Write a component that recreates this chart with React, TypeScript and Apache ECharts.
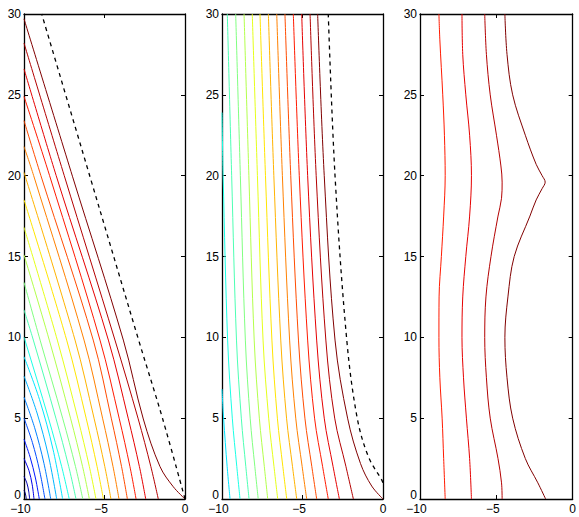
import React, { useEffect, useRef } from "react";
import * as echarts from "echarts";

type Pt = [number, number];

const xTickValues = [-10, -5, 0];
const yTickValues = [0, 5, 10, 15, 20, 25, 30];

// Panel 1: contour lines, from the lower-left corner outwards
const panel1Lines: Pt[][] = [
  [[-9.86, 0], [-9.885, 0.19], [-9.93, 0.385], [-10, 0.55]],
  [[-9.65, 0], [-9.71, 0.49], [-9.82, 0.98], [-10, 1.4]],
  [[-9.38, 0], [-9.49, 0.88], [-9.69, 1.75], [-10, 2.5]],
  [[-9.05, 0], [-9.29, 1.3], [-9.62, 2.59], [-10, 3.7]],
  [[-8.7, 0], [-9.03, 1.75], [-9.48, 3.5], [-10, 5.0]],
  [[-8.34, 0], [-8.76, 2.2], [-9.34, 4.41], [-10, 6.3]],
  [[-7.97, 0], [-8.48, 2.66], [-9.19, 5.32], [-10, 7.6]],
  [[-7.6, 0], [-8.2, 3.08], [-9.04, 6.16], [-10, 8.8]],
  [[-7.19, 0], [-7.66, 2], [-8.48, 5], [-9.94, 9.83], [-10, 10.0]],
  [[-6.77, 0], [-7.22, 2], [-8.02, 5], [-9.42, 9.83], [-10, 11.7]],
  [[-6.35, 0], [-6.8, 2], [-7.6, 5], [-9.0, 9.83], [-10, 13.4]],
  [[-5.94, 0], [-6.36, 2], [-7.11, 5], [-8.43, 9.83], [-10, 15.1]],
  [[-5.53, 0], [-5.94, 2], [-6.66, 5], [-7.93, 9.83], [-10, 16.8]],
  [[-5.07, 0], [-5.46, 2], [-6.14, 5], [-7.35, 9.83], [-10, 18.5]],
  [[-4.6, 0], [-4.98, 2], [-5.65, 5], [-6.83, 9.83], [-10, 20.2]],
  [[-4.1, 0], [-4.47, 2], [-5.12, 5], [-6.27, 9.83], [-9.4, 20], [-10, 21.8]],
  [[-3.58, 0], [-3.94, 2], [-4.58, 5], [-5.7, 9.83], [-8.95, 20], [-10, 23.4]],
  [[-3.04, 0], [-3.42, 2], [-4.09, 5], [-5.28, 9.83], [-8.41, 20], [-10, 24.9]],
  [[-2.44, 0], [-2.83, 2], [-3.53, 5], [-4.76, 9.83], [-8.0, 20], [-10, 26.6]],
  [[-1.66, 0], [-2.12, 2], [-2.92, 5], [-4.35, 9.83], [-7.5, 20], [-10, 28.2]],
  [[0, 0], [-0.73, 0.76], [-1.55, 2.0], [-2.59, 4.95], [-3.83, 9.83], [-6.98, 19.93], [-10, 29.7]],
];
const panel1Dashed: Pt[] = [[0, 0], [-1.4, 5], [-2.88, 9.83], [-5.9, 19.93], [-8.9, 30]];

// Panel 2: contour lines, from the left (cyan) to the right (dark red)
const panel2Lines: Pt[][] = [
  [[-9.5, 0], [-9.68, 2], [-9.9, 5], [-10, 6.8]],
  [[-8.88, 0], [-9.08, 2], [-9.36, 5], [-9.65, 9.83], [-9.93, 20], [-10, 23.9]],
  [[-8.32, 0], [-8.52, 2], [-8.8, 5], [-9.1, 9.83], [-9.4, 20], [-9.67, 30]],
  [[-7.75, 0], [-7.96, 2], [-8.25, 5], [-8.55, 9.83], [-8.86, 20], [-9.15, 30]],
  [[-7.16, 0], [-7.37, 2], [-7.68, 5], [-8.0, 9.83], [-8.33, 20], [-8.63, 30]],
  [[-6.54, 0], [-6.77, 2], [-7.1, 5], [-7.45, 9.83], [-7.8, 20], [-8.12, 30]],
  [[-5.98, 0], [-6.22, 2], [-6.56, 5], [-6.9, 9.83], [-7.3, 20], [-7.64, 30]],
  [[-5.36, 0], [-5.62, 2], [-5.99, 5], [-6.35, 9.83], [-6.78, 20], [-7.12, 30]],
  [[-4.74, 0], [-5.02, 2], [-5.42, 5], [-5.8, 9.83], [-6.25, 20], [-6.6, 30]],
  [[-4.12, 0], [-4.42, 2], [-4.85, 5], [-5.25, 9.83], [-5.73, 20], [-6.09, 30]],
  [[-3.4, 0], [-3.75, 2], [-4.25, 5], [-4.68, 9.83], [-5.2, 20], [-5.57, 30]],
  [[-2.71, 0], [-3.1, 2], [-3.65, 5], [-4.12, 9.83], [-4.68, 20], [-5.05, 30]],
  [[-1.84, 0], [-2.3, 2], [-3.0, 5], [-3.55, 9.83], [-4.15, 20], [-4.53, 30]],
  [[0, 0], [-0.7, 0.8], [-1.4, 2.2], [-2.2, 5], [-2.98, 9.83], [-3.65, 20], [-4.06, 30]],
];
const panel2Dashed: Pt[] = [[0, 1.0], [-0.08, 1.18], [-0.9, 2.6], [-1.6, 5], [-2.25, 9.83], [-2.98, 20], [-3.4, 30]];

// Panel 3: four contour lines
const panel3Lines: Pt[][] = [
  [[-8.35, 0], [-8.45, 2.5], [-8.55, 5], [-8.7, 7.5], [-8.76, 10], [-8.75, 12.5], [-8.6, 15], [-8.45, 17.5], [-8.35, 20], [-8.4, 22.5], [-8.51, 25], [-8.7, 28.4], [-8.76, 30]],
  [[-6.63, 0], [-6.75, 2.5], [-6.96, 5], [-7.15, 7.5], [-7.25, 10], [-7.2, 12.5], [-7.0, 15], [-6.75, 17.5], [-6.63, 20], [-6.75, 22.5], [-7.0, 25], [-7.2, 27.5], [-7.25, 30]],
  [[-4.62, 0], [-4.66, 1], [-4.89, 2.5], [-5.4, 5], [-5.65, 7.5], [-5.76, 10], [-5.68, 12.5], [-5.35, 15], [-4.89, 17.5], [-4.66, 18.6], [-4.62, 19.6], [-4.7, 20.6], [-4.99, 22.5], [-5.4, 25], [-5.65, 27.5], [-5.76, 30]],
  [[-1.77, 0], [-2.28, 1], [-3.1, 2.5], [-3.93, 5], [-4.3, 7.5], [-4.44, 10], [-4.24, 12.5], [-3.83, 15], [-2.8, 17.5], [-2.39, 18.5], [-2.0, 19.2], [-1.8, 19.6], [-2.0, 20.0], [-2.39, 20.7], [-3.1, 22.5], [-3.93, 25], [-4.3, 27.5], [-4.44, 30]],
];

const levelCount = 21;
const panel2FirstLevel = 7;
const panel3FirstLevel = 17;

function jet(t: number): string {
  const c = (v: number) => Math.max(0, Math.min(1, v));
  const r = c(Math.min(4 * t - 1.5, -4 * t + 4.5));
  const g = c(Math.min(4 * t - 0.5, -4 * t + 3.5));
  const b = c(Math.min(4 * t + 0.5, -4 * t + 2.5));
  return `rgb(${Math.round(r * 255)},${Math.round(g * 255)},${Math.round(b * 255)})`;
}

const grids = [
  { left: 24, top: 14, width: 161, height: 485 },
  { left: 222, top: 14, width: 161, height: 485 },
  { left: 420, top: 14, width: 161, height: 485 },
];

const FONT = "Liberation Sans, Arial, sans-serif";
const baseTok = { color: "#000", fontSize: 12, lineHeight: 12, fontFamily: FONT };

// x labels: digits centred on the tick, the minus sign hangs to the left
const fmtX = (v: number) => (v < 0 ? `{n|\u2212${Math.abs(v)}}` : `{p|${v}}`);
// y labels: the lowest label sits slightly higher to clear the x labels
const fmtY = (v: number) => (v === 0 ? `{z|0}` : `{p|${v}}`);

export default function App() {
  const ref = useRef<HTMLDivElement>(null);
  useEffect(() => {
    if (!ref.current) return;
    const chart = echarts.init(ref.current, undefined, { renderer: "svg" });
    const axisLine = { onZero: false, lineStyle: { color: "#000", width: 1.3 } };
    const axisTick = { inside: true, length: 4, lineStyle: { color: "#000", width: 1 } };
    const xAxis: any[] = [];
    const yAxis: any[] = [];
    grids.forEach((_, gi) => {
      xAxis.push({
        gridIndex: gi, type: "value", min: -10, max: 0, interval: 5, position: "bottom",
        axisLine, axisTick, splitLine: { show: false },
        axisLabel: {
          ...baseTok, margin: 4, formatter: fmtX, showMinLabel: true, showMaxLabel: true,
          rich: { n: { ...baseTok, padding: [0, 7, 0, 0] }, p: { ...baseTok } },
        },
      });
      xAxis.push({
        gridIndex: gi, type: "value", min: -10, max: 0, interval: 5, position: "top",
        axisLine, axisTick, splitLine: { show: false }, axisLabel: { show: false },
      });
      yAxis.push({
        gridIndex: gi, type: "value", min: 0, max: 30, interval: 5, position: "left",
        axisLine, axisTick, splitLine: { show: false },
        axisLabel: {
          ...baseTok, margin: 3, formatter: fmtY, showMinLabel: true, showMaxLabel: true,
          rich: { z: { ...baseTok, padding: [0, 0, 8, 0] }, p: { ...baseTok } },
        },
      });
      yAxis.push({
        gridIndex: gi, type: "value", min: 0, max: 30, interval: 5, position: "right",
        axisLine, axisTick, splitLine: { show: false }, axisLabel: { show: false },
      });
    });
    const series: any[] = [];
    const addLine = (gi: number, data: Pt[], color: string, dashed = false) => {
      series.push({
        type: "line", xAxisIndex: gi * 2, yAxisIndex: gi * 2, data,
        smooth: 0.35, showSymbol: false, symbol: "none", silent: true,
        lineStyle: { color, width: dashed ? 1.3 : 1, type: dashed ? [4, 4] : "solid" },
      });
    };
    panel1Lines.forEach((l, i) => addLine(0, l, jet(i / (levelCount - 1))));
    addLine(0, panel1Dashed, "#000", true);
    panel2Lines.forEach((l, i) => addLine(1, l, jet((panel2FirstLevel + i) / (levelCount - 1))));
    addLine(1, panel2Dashed, "#000", true);
    panel3Lines.forEach((l, i) => addLine(2, l, jet((panel3FirstLevel + i) / (levelCount - 1))));
    chart.setOption({
      animation: false,
      backgroundColor: "#fff",
      grid: grids.map((g) => ({ ...g, containLabel: false })),
      xAxis, yAxis, series,
    });
    return () => chart.dispose();
  }, []);
  return (
    <div
      ref={ref}
      style={{ position: "fixed", left: 0, top: 0, width: 579, height: 517, background: "#fff" }}
    />
  );
}
